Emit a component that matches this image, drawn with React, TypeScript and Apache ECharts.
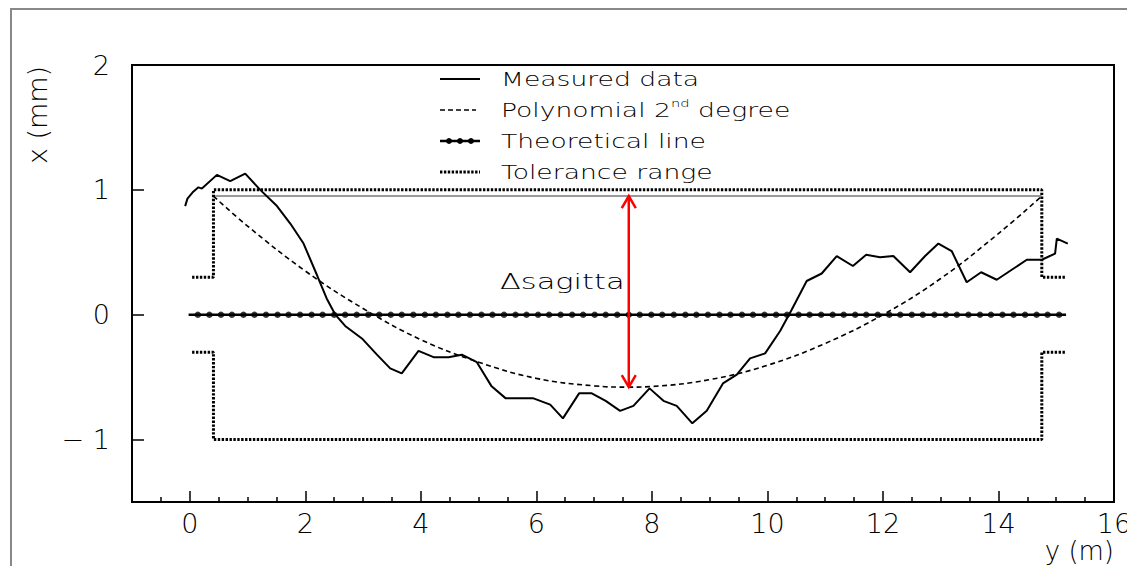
import React, { useEffect, useRef } from 'react';
import * as echarts from 'echarts';

// ---- data ----
const measuredX = [-0.08, -0.04, 0.05, 0.15, 0.21, 0.47, 0.70, 0.96, 1.22, 1.51, 1.74, 1.97, 2.20, 2.37, 2.52, 2.69, 2.98, 3.24, 3.47, 3.67, 3.96, 4.22, 4.48, 4.71, 4.97, 5.22, 5.47, 5.71, 5.95, 6.24, 6.46, 6.74, 6.96, 7.20, 7.45, 7.68, 7.96, 8.20, 8.43, 8.70, 8.95, 9.23, 9.47, 9.70, 9.96, 10.22, 10.42, 10.68, 10.94, 11.20, 11.48, 11.71, 11.95, 12.18, 12.47, 12.73, 12.96, 13.19, 13.45, 13.70, 13.97, 14.23, 14.49, 14.75, 14.98, 15.01, 15.20];
const measuredY = [0.87, 0.93, 0.98, 1.02, 1.01, 1.12, 1.07, 1.13, 1.00, 0.87, 0.73, 0.57, 0.32, 0.13, 0.00, -0.09, -0.19, -0.32, -0.43, -0.47, -0.29, -0.34, -0.34, -0.32, -0.38, -0.57, -0.67, -0.67, -0.67, -0.72, -0.83, -0.63, -0.63, -0.69, -0.77, -0.73, -0.59, -0.69, -0.73, -0.87, -0.77, -0.55, -0.48, -0.35, -0.31, -0.13, 0.04, 0.27, 0.33, 0.47, 0.39, 0.48, 0.46, 0.47, 0.34, 0.47, 0.57, 0.51, 0.26, 0.34, 0.28, 0.36, 0.44, 0.44, 0.49, 0.61, 0.57];

const polyX = [0.41, 1, 2, 3, 4, 5, 6, 7, 7.6, 8, 9, 10, 11, 12, 13, 14, 14.75];
const polyY = [0.95, 0.71, 0.35, 0.05, -0.2, -0.38, -0.51, -0.57, -0.58, -0.575, -0.52, -0.405, -0.23, 0.0, 0.29, 0.65, 0.95];

const theoryLineX = [-0.02, 15.17];
const theoryLineY = [0, 0];
const theoryMarkerX = [0.14, 0.34, 0.54, 0.73, 0.93, 1.12, 1.32, 1.52, 1.71, 1.91, 2.11, 2.30, 2.50, 2.69, 2.89, 3.09, 3.28, 3.48, 3.67, 3.87, 4.07, 4.26, 4.46, 4.65, 4.85, 5.05, 5.24, 5.44, 5.64, 5.83, 6.03, 6.22, 6.42, 6.62, 6.81, 7.01, 7.20, 7.40, 7.60, 7.79, 7.99, 8.18, 8.38, 8.58, 8.77, 8.97, 9.17, 9.36, 9.56, 9.75, 9.95, 10.15, 10.34, 10.54, 10.73, 10.93, 11.13, 11.32, 11.52, 11.71, 11.91, 12.11, 12.30, 12.50, 12.69, 12.89, 13.09, 13.28, 13.48, 13.68, 13.87, 14.07, 14.26, 14.46, 14.66, 14.85, 15.05];

const toleranceX = [0.04, 0.41, 0.41, 14.75, 14.75, 15.15];
const toleranceUpperY = [0.3, 0.3, 1.0, 1.0, 0.3, 0.3];
const toleranceLowerY = [-0.3, -0.3, -1.0, -1.0, -0.3, -0.3];

const referenceX = [0.44, 14.75];
const referenceY = [0.95, 0.95];

const sagitta = [[7.6, 0.95, -0.58]];

const xMajorTicks = [0, 2, 4, 6, 8, 10, 12, 14, 16];
const xMinorTicks = [-0.5, 0.5, 1, 1.5, 2.5, 3, 3.5, 4.5, 5, 5.5, 6.5, 7, 7.5, 8.5, 9, 9.5, 10.5, 11, 11.5, 12.5, 13, 13.5, 14.5, 15, 15.5];
const yTicks = [-1, 0, 1, 2];

const legendLabels = ['Measured data', 'Polynomial 2nd degree', 'Theoretical line', 'Tolerance range'];

const FONT = '"DejaVu Sans", sans-serif';
const FW = 200;
const DOT: number[] = [2.4, 1.5];
const DOT_W = 3;

const zip = (xs: number[], ys: number[]) => xs.map((x, i) => [x, ys[i]]);

export default function App() {
  const ref = useRef<HTMLDivElement>(null);
  useEffect(() => {
    if (!ref.current) return;
    const chart = echarts.init(ref.current, undefined, { renderer: 'svg' });
    const rowY = [79, 110, 141, 172];
    const lx1 = 440, lx2 = 480, tx = 501;
    const legendGraphics: any[] = [
      { type: 'line', shape: { x1: lx1, y1: rowY[0], x2: lx2, y2: rowY[0] }, style: { stroke: '#000', lineWidth: 2 } },
      { type: 'line', shape: { x1: lx1, y1: rowY[1], x2: lx2 - 4, y2: rowY[1] }, style: { stroke: '#000', lineWidth: 1.6, lineDash: [5, 3] } },
      { type: 'line', shape: { x1: lx1, y1: rowY[2], x2: lx2, y2: rowY[2] }, style: { stroke: '#000', lineWidth: 2.5 } },
      { type: 'circle', shape: { cx: 449, cy: rowY[2], r: 3 }, style: { fill: '#000' } },
      { type: 'circle', shape: { cx: 460, cy: rowY[2], r: 3 }, style: { fill: '#000' } },
      { type: 'circle', shape: { cx: 471, cy: rowY[2], r: 3 }, style: { fill: '#000' } },
      { type: 'line', shape: { x1: lx1, y1: rowY[3], x2: lx2, y2: rowY[3] }, style: { stroke: '#000', lineWidth: DOT_W, lineDash: DOT } },
      { type: 'text', x: tx, y: rowY[0], scaleX: 1.33, style: { text: legendLabels[0], font: `${FW} 20px ${FONT}`, fill: '#000', verticalAlign: 'middle' } },
      {
        type: 'text', x: tx, y: rowY[1], scaleX: 1.33,
        style: {
          text: '{a|Polynomial 2}{s|nd}{a| degree}',
          fill: '#000', verticalAlign: 'middle',
          rich: {
            a: { fontFamily: FONT, fontWeight: FW, fontSize: 20, lineHeight: 24, fill: '#000' },
            s: { fontFamily: FONT, fontWeight: FW, fontSize: 11, lineHeight: 24, verticalAlign: 'top', fill: '#000' },
          },
        },
      },
      { type: 'text', x: tx, y: rowY[2], scaleX: 1.33, style: { text: legendLabels[2], font: `${FW} 20px ${FONT}`, fill: '#000', verticalAlign: 'middle' } },
      { type: 'text', x: tx, y: rowY[3], scaleX: 1.33, style: { text: legendLabels[3], font: `${FW} 20px ${FONT}`, fill: '#000', verticalAlign: 'middle' } },
    ];

    const option: any = {
      animation: false,
      backgroundColor: '#fff',
      grid: { left: 132, top: 65, width: 982, height: 437, show: true, borderColor: '#000', borderWidth: 2, backgroundColor: 'transparent', containLabel: false, outerBoundsMode: 'none' },
      xAxis: [
        {
          type: 'value', min: -1, max: 16, position: 'bottom',
          axisLine: { show: true, onZero: false, lineStyle: { color: '#000', width: 2 } },
          axisTick: { show: true, inside: true, length: 11, customValues: xMajorTicks, lineStyle: { color: '#000', width: 1.5 } },
          axisLabel: { customValues: xMajorTicks, fontSize: 27, fontFamily: FONT, fontWeight: FW, color: '#000', margin: 8, hideOverlap: false },
          splitLine: { show: false },
        },
        {
          type: 'value', min: -1, max: 16, position: 'bottom',
          axisLine: { show: false, onZero: false },
          axisTick: { show: true, inside: true, length: 5, customValues: xMinorTicks, lineStyle: { color: '#000', width: 1.5 } },
          axisLabel: { show: false },
          splitLine: { show: false },
        },
      ],
      yAxis: {
        type: 'value', min: -1.5, max: 2, position: 'left',
        axisLine: { show: true, onZero: false, lineStyle: { color: '#000', width: 2 } },
        axisTick: { show: true, inside: true, length: 12, customValues: yTicks, lineStyle: { color: '#000', width: 1.5 } },
        axisLabel: {
          customValues: yTicks, fontSize: 27, fontFamily: FONT, fontWeight: FW, color: '#000', margin: 22,
          formatter: (v: number) => (v < 0 ? '\u2212 ' + Math.abs(v) : String(v)),
        },
        splitLine: { show: false },
      },
      graphic: [
        { type: 'rect', shape: { x: 11, y: 9, width: 1300, height: 700 }, style: { fill: 'none', stroke: '#888', lineWidth: 2 }, silent: true },
        ...legendGraphics,
        { type: 'text', x: 500, y: 282, scaleX: 1.45, style: { text: '\u0394sagitta', font: `${FW} 21px ${FONT}`, fill: '#000', verticalAlign: 'middle' } },
        { type: 'text', x: 1114, y: 551, style: { text: 'y (m)', font: `${FW} 26px ${FONT}`, fill: '#000', align: 'right', verticalAlign: 'middle' } },
        { type: 'text', x: 37, y: 115, rotation: Math.PI / 2, style: { text: 'x (mm)', font: `${FW} 27px ${FONT}`, fill: '#000', align: 'center', verticalAlign: 'middle' } },
      ],
      series: [
        { name: 'Tolerance upper', type: 'line', data: zip(toleranceX, toleranceUpperY), symbol: 'none', lineStyle: { color: '#000', width: DOT_W, type: DOT }, z: 2 },
        { name: 'Tolerance lower', type: 'line', data: zip(toleranceX, toleranceLowerY), symbol: 'none', lineStyle: { color: '#000', width: DOT_W, type: DOT }, z: 2 },
        { name: 'Reference', type: 'line', data: zip(referenceX, referenceY), symbol: 'none', lineStyle: { color: '#777', width: 1.5 }, z: 2 },
        { name: 'Theoretical line', type: 'line', data: zip(theoryLineX, theoryLineY), symbol: 'none', lineStyle: { color: '#000', width: 2.5 }, z: 3 },
        { name: 'Theoretical markers', type: 'scatter', data: theoryMarkerX.map((x) => [x, 0]), symbol: 'circle', symbolSize: 6.5, itemStyle: { color: '#000' }, z: 3 },
        { name: 'Polynomial', type: 'line', data: zip(polyX, polyY), smooth: 0.4, symbol: 'none', lineStyle: { color: '#000', width: 1.6, type: [5, 3.5] }, z: 4 },
        { name: 'Measured data', type: 'line', data: zip(measuredX, measuredY), symbol: 'none', lineStyle: { color: '#000', width: 2 }, z: 5 },
        {
          name: 'Sagitta', type: 'custom', data: sagitta, z: 6,
          renderItem: (params: any, api: any) => {
            const top = api.coord([api.value(0), api.value(1)]);
            const bot = api.coord([api.value(0), api.value(2)]);
            const st = { stroke: '#f00', lineWidth: 2.5, fill: 'none' };
            return {
              type: 'group',
              children: [
                { type: 'line', shape: { x1: top[0], y1: top[1], x2: bot[0], y2: bot[1] }, style: st },
                { type: 'polyline', shape: { points: [[top[0] - 7, top[1] + 12], [top[0], top[1]], [top[0] + 7, top[1] + 12]] }, style: st },
                { type: 'polyline', shape: { points: [[bot[0] - 7, bot[1] - 12], [bot[0], bot[1]], [bot[0] + 7, bot[1] - 12]] }, style: st },
              ],
            };
          },
        },
      ],
    };
    chart.setOption(option);
    return () => chart.dispose();
  }, []);
  return <div ref={ref} style={{ position: 'absolute', left: 0, top: 0, width: 1127, height: 566, background: '#fff' }} />;
}
